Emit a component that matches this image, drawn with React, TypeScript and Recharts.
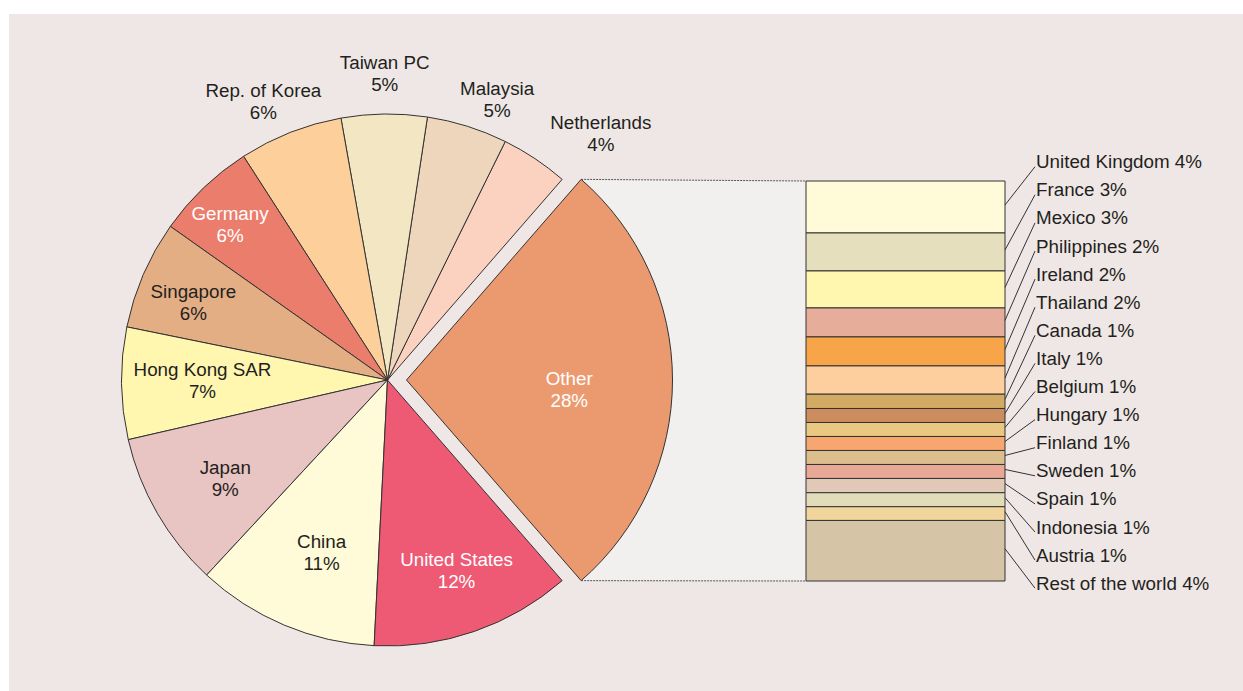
import { Bar, BarChart, Cell, LabelList, Pie, PieChart, XAxis, YAxis } from "recharts";

// pie slices, counter-clockwise from the top edge of "Other"
const pieNames = [
  "Netherlands",
  "Malaysia",
  "Taiwan PC",
  "Rep. of Korea",
  "Germany",
  "Singapore",
  "Hong Kong SAR",
  "Japan",
  "China",
  "United States",
  "Other",
];
const pieValues = [4.1, 4.9, 5.2, 6.3, 6.1, 6.6, 6.8, 9.5, 11.1, 12.2, 27.2];
const pieShown = ["4%", "5%", "5%", "6%", "6%", "6%", "7%", "9%", "11%", "12%", "28%"];
const pieColors = [
  "#fbd1c0",
  "#edd6bc",
  "#f3e6c3",
  "#fdcf9b",
  "#eb7d6d",
  "#e4ae85",
  "#fff6b0",
  "#e8c4c2",
  "#fffad7",
  "#ee5974",
  "#eb9a70",
];

// breakdown of "Other", top to bottom
const otherNames = [
  "United Kingdom",
  "France",
  "Mexico",
  "Philippines",
  "Ireland",
  "Thailand",
  "Canada",
  "Italy",
  "Belgium",
  "Hungary",
  "Finland",
  "Sweden",
  "Spain",
  "Indonesia",
  "Austria",
  "Rest of the world",
];
const otherValues = [3.64, 2.66, 2.59, 2.03, 2.03, 1.98, 1.0, 0.98, 0.98, 0.98, 0.98, 0.98, 1.0, 0.98, 0.96, 4.24];
const otherShown = ["4%", "3%", "3%", "2%", "2%", "2%", "1%", "1%", "1%", "1%", "1%", "1%", "1%", "1%", "1%", "4%"];
const otherColors = [
  "#fffad7",
  "#e6dfbe",
  "#fff6b0",
  "#e6ae9a",
  "#f8a54a",
  "#fdcf9e",
  "#d2aa63",
  "#cd8c5e",
  "#ebc882",
  "#f6a66e",
  "#dcbe8c",
  "#e9a796",
  "#e2c8b6",
  "#e2ddb9",
  "#f2d59c",
  "#d6c4a6",
];

const FONT = "'Liberation Sans', Arial, Helvetica, sans-serif";
const FS = 18.8;
const INK = "#231f20";
const W = 1243;
const H = 691;
const CX = 387.5;
const CY = 380;
const R = 266;
const EXPLODE = 19;
const RAD = Math.PI / 180;

const BAR_LEFT = 786;
const BAR_TOP = 140;
const BAR_MARGIN = { top: 41, right: 231, bottom: 29, left: 20 };
const BAR_W = 450;
const BAR_H = 470;

// label radius and angle nudge for each pie slice
const labelSpot: Record<string, [number, number]> = {
  Netherlands: [326, -7.2],
  Malaysia: [301, -3.9],
  "Taiwan PC": [307, -0.2],
  "Rep. of Korea": [305, 2.6],
  Germany: [221, 1.7],
  Singapore: [209, 1.7],
  "Hong Kong SAR": [185, -0.7],
  Japan: [190, 1.3],
  China: [185, 2],
  "United States": [203, 0.8],
  Other: [163, -3.2],
};
const whiteLabels = ["Germany", "United States", "Other"];

const pieData = pieNames.map((name, i) => ({ name, value: pieValues[i], shown: pieShown[i] }));
const pieTotal = pieValues.reduce((a, b) => a + b, 0);
const otherIdx = pieNames.indexOf("Other");
const otherHalf = (pieValues[otherIdx] / pieTotal) * 180;

const barRow: Record<string, number | string> = { name: "Other" };
otherNames.forEach((n, i) => (barRow[n] = otherValues[i]));
const barTotal = otherValues.reduce((a, b) => a + b, 0);

const makePieLabel = (only: "rest" | "other") => (p: any) => {
  const name = p.name ?? p.payload?.name;
  const isOther = name === "Other";
  if ((only === "other") !== isOther) return <g />;
  const [r, shift] = labelSpot[name] ?? [200, 0];
  const a = (p.midAngle + shift) * RAD;
  const x = p.cx + r * Math.cos(a);
  const y = p.cy - r * Math.sin(a);
  const fill = whiteLabels.includes(name) ? "#ffffff" : INK;
  const shown = p.payload?.shown ?? pieShown[pieNames.indexOf(name)];
  return (
    <g>
      <text x={x} y={y - 11} textAnchor="middle" dominantBaseline="central" fill={fill} fontSize={FS} fontFamily={FONT}>
        {name}
      </text>
      <text x={x} y={y + 11} textAnchor="middle" dominantBaseline="central" fill={fill} fontSize={FS} fontFamily={FONT}>
        {shown}
      </text>
    </g>
  );
};

const makeRowLabel = (i: number) => (p: any) => {
  const vb = p.viewBox ?? p;
  const x = Number(p.x ?? vb.x);
  const y = Number(p.y ?? vb.y);
  const w = Number(p.width ?? vb.width);
  const h = Number(p.height ?? vb.height);
  const right = x + w;
  const midY = y + h / 2 - 2;
  const textX = right + 31;
  const rowY = BAR_MARGIN.top - 19.3 + i * 28.1;
  return (
    <g key={`row-${i}`}>
      <line x1={right} y1={midY} x2={textX - 1} y2={rowY + 5} stroke="#333" strokeWidth={1} />
      <text x={textX} y={rowY} dominantBaseline="central" fill={INK} fontSize={FS} fontFamily={FONT}>
        {`${otherNames[i]} ${otherShown[i]}`}
      </text>
    </g>
  );
};

export default function App() {
  const topX = CX + EXPLODE + R * Math.cos(otherHalf * RAD);
  const topY = CY - R * Math.sin(otherHalf * RAD);
  const botY = CY + R * Math.sin(otherHalf * RAD);
  const plotLeft = BAR_LEFT + BAR_MARGIN.left;
  const plotTop = BAR_TOP + BAR_MARGIN.top;
  const plotBottom = BAR_TOP + BAR_H - BAR_MARGIN.bottom;

  return (
    <div style={{ position: "absolute", left: 0, top: 0, width: W, height: H, background: "#ffffff" }}>
      <div style={{ position: "absolute", left: 9, top: 14, right: 0, bottom: 0, background: "#efe7e5" }} />
      <svg width={W} height={H} style={{ position: "absolute", left: 0, top: 0 }}>
        <polygon
          points={`${topX},${topY} ${plotLeft},${plotTop} ${plotLeft},${plotBottom} ${topX},${botY}`}
          fill="#f2f0ee"
        />
        <line x1={topX} y1={topY} x2={plotLeft} y2={plotTop} stroke="#555" strokeDasharray="2 1" />
        <line x1={topX} y1={botY} x2={plotLeft} y2={plotBottom} stroke="#555" strokeDasharray="2 1" />
      </svg>
      <div style={{ position: "absolute", left: 0, top: 0 }}>
        <PieChart width={W} height={H} margin={{ top: 0, right: 0, bottom: 0, left: 0 }}>
          <Pie
            data={pieData}
            dataKey="value"
            nameKey="name"
            cx={CX}
            cy={CY}
            outerRadius={R}
            startAngle={otherHalf}
            endAngle={otherHalf + 360}
            labelLine={false}
            label={makePieLabel("rest")}
            isAnimationActive={false}
          >
            {pieData.map((d, i) => (
              <Cell
                key={d.name}
                fill={d.name === "Other" ? "none" : pieColors[i]}
                stroke={d.name === "Other" ? "none" : "#333"}
                strokeWidth={1}
              />
            ))}
          </Pie>
          <Pie
            data={pieData}
            dataKey="value"
            nameKey="name"
            cx={CX + EXPLODE}
            cy={CY}
            outerRadius={R}
            startAngle={otherHalf}
            endAngle={otherHalf + 360}
            labelLine={false}
            label={makePieLabel("other")}
            isAnimationActive={false}
          >
            {pieData.map((d, i) => (
              <Cell
                key={d.name}
                fill={d.name === "Other" ? pieColors[i] : "none"}
                stroke={d.name === "Other" ? "#333" : "none"}
                strokeWidth={1}
              />
            ))}
          </Pie>
        </PieChart>
      </div>
      <div style={{ position: "absolute", left: BAR_LEFT, top: BAR_TOP }}>
        <BarChart width={BAR_W} height={BAR_H} data={[barRow]} margin={BAR_MARGIN} barCategoryGap={0} barGap={0}>
          <XAxis dataKey="name" type="category" hide />
          <YAxis type="number" domain={[0, barTotal]} reversed hide />
          {otherNames.map((n, i) => (
            <Bar
              key={n}
              dataKey={n}
              stackId="other"
              fill={otherColors[i]}
              stroke="#333"
              strokeWidth={1}
              isAnimationActive={false}
            >
              <LabelList dataKey={n} content={makeRowLabel(i)} />
            </Bar>
          ))}
        </BarChart>
      </div>
    </div>
  );
}
